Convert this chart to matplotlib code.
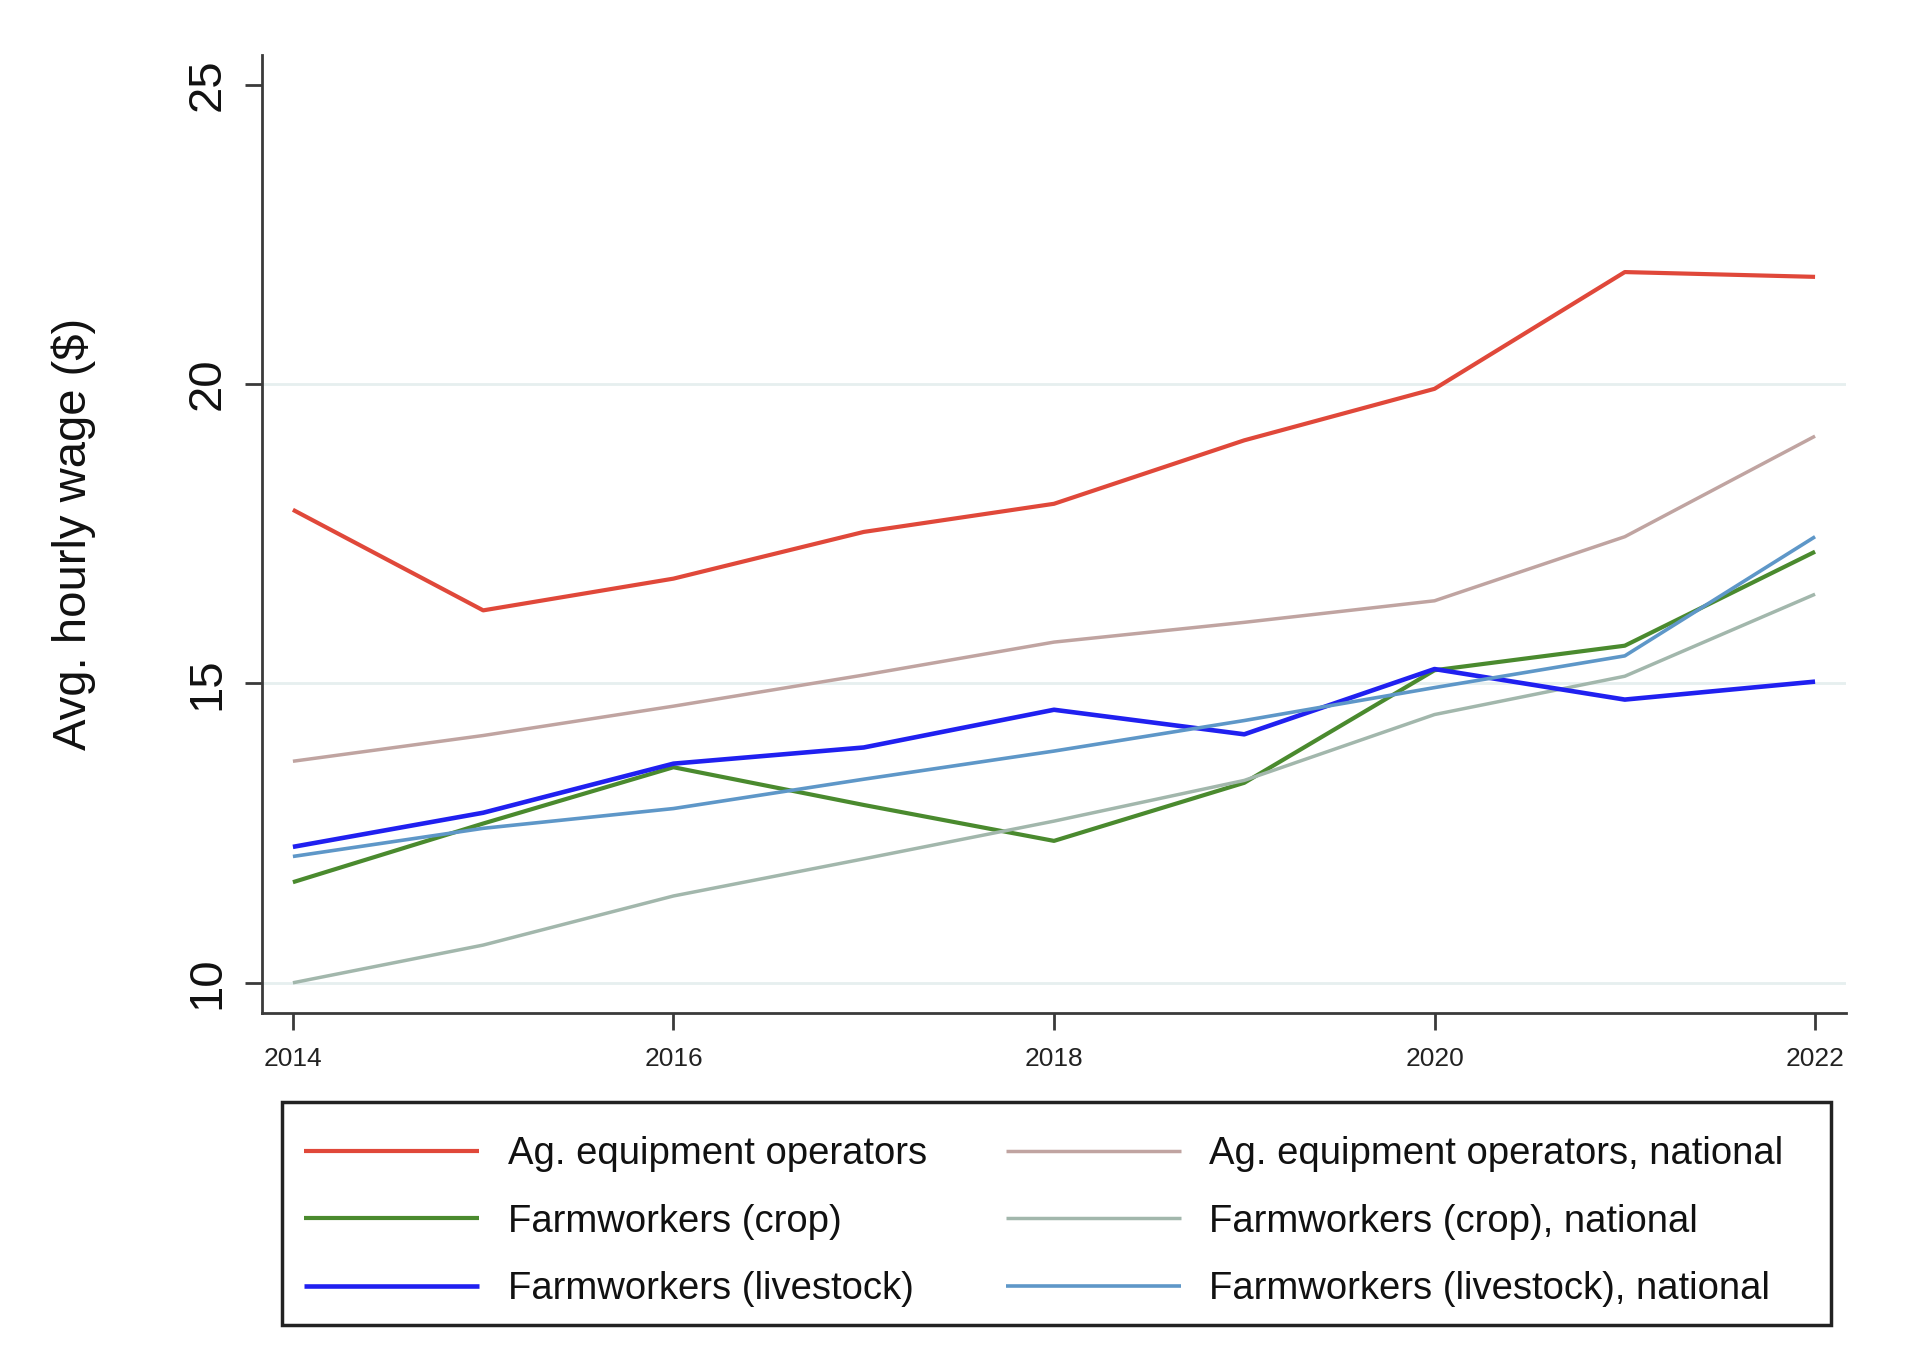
import matplotlib
matplotlib.use("Agg")
import matplotlib.pyplot as plt
from matplotlib.patches import Rectangle

years = [2014, 2015, 2016, 2017, 2018, 2019, 2020, 2021, 2022]
ag_ops = [17.90, 16.22, 16.75, 17.53, 18.00, 19.06, 19.92, 21.87, 21.79]
ag_ops_nat = [13.70, 14.13, 14.62, 15.14, 15.69, 16.02, 16.38, 17.45, 19.13]
crop = [11.68, 12.66, 13.60, 12.97, 12.37, 13.34, 15.22, 15.63, 17.20]
crop_nat = [10.00, 10.63, 11.45, 12.07, 12.70, 13.38, 14.48, 15.12, 16.49]
livestock = [12.27, 12.84, 13.66, 13.93, 14.56, 14.15, 15.24, 14.73, 15.03]
livestock_nat = [12.11, 12.58, 12.91, 13.40, 13.87, 14.38, 14.93, 15.46, 17.45]

labels = ["Ag. equipment operators", "Ag. equipment operators, national",
          "Farmworkers (crop)", "Farmworkers (crop), national",
          "Farmworkers (livestock)", "Farmworkers (livestock), national"]
yticks = [10, 15, 20, 25]
xticks = [2014, 2016, 2018, 2020, 2022]

plt.rcParams['font.family'] = ['Liberation Sans', 'DejaVu Sans']

W, H = 1920, 1368
fig = plt.figure(figsize=(19.2, 13.68), dpi=100)
left, right, bottom, top = 0.1367, 0.9612, 0.2597, 0.960
ax = fig.add_axes([left, bottom, right - left, top - bottom])

series = [
    (ag_ops, "#E0483A", 3.0),
    (ag_ops_nat, "#C0A4A1", 2.5),
    (crop, "#4A8A2E", 3.0),
    (crop_nat, "#A2B7AC", 2.5),
    (livestock, "#2020F0", 3.3),
    (livestock_nat, "#5E97C8", 2.6),
]
handles = []
for (vals, col, lw), lab in zip(series, labels):
    h, = ax.plot(years, vals, color=col, lw=lw, label=lab, solid_capstyle='butt', zorder=3)
    handles.append(h)

ax.set_xlim(2013.84, 2022.16)
ax.set_ylim(9.5, 25.5)
ax.set_yticks(yticks)
ax.set_yticklabels([str(v) for v in yticks], rotation=90, va='center')
ax.set_xticks(xticks)
ax.set_xticklabels([str(v) for v in xticks])

for s in ['top', 'right']:
    ax.spines[s].set_visible(False)
for s in ['left', 'bottom']:
    ax.spines[s].set_linewidth(2.0)
    ax.spines[s].set_color('#3a3a3a')

ax.tick_params(axis='y', labelsize=34, length=12, width=2, color='#3a3a3a', pad=12, labelcolor='#111111')
ax.tick_params(axis='x', labelsize=19, length=12, width=2, color='#3a3a3a', pad=13, labelcolor='#222222')

ax.grid(axis='y', color='#E6EFEF', lw=2.0, zorder=0)
ax.set_axisbelow(True)
gls = ax.yaxis.get_gridlines()
gls[-1].set_visible(False)

ax.set_ylabel("Avg. hourly wage ($)", fontsize=34, color='#111111')
ax.yaxis.set_label_coords(-0.105, 0.5)

# legend frame (drawn separately so the padding matches the reference)
fig.patches.append(Rectangle((282 / W, 1 - 1325 / H), (1831 - 282) / W, (1325 - 1102) / H,
                             transform=fig.transFigure, fill=False,
                             ec='#222222', lw=2.5, zorder=5))

order = [0, 2, 4, 1, 3, 5]
leg = fig.legend([handles[i] for i in order], [labels[i] for i in order],
                 loc='upper left', ncol=2,
                 bbox_to_anchor=(304 / W, 1 - 1136 / H),
                 borderaxespad=0.0, borderpad=0.0,
                 fontsize=27.5, handlelength=4.58, handletextpad=0.75, labelspacing=0.83,
                 frameon=False, columnspacing=2.07)
for t in leg.get_texts():
    t.set_color('#111111')

fig.savefig("out.png", dpi=100, facecolor='white')
